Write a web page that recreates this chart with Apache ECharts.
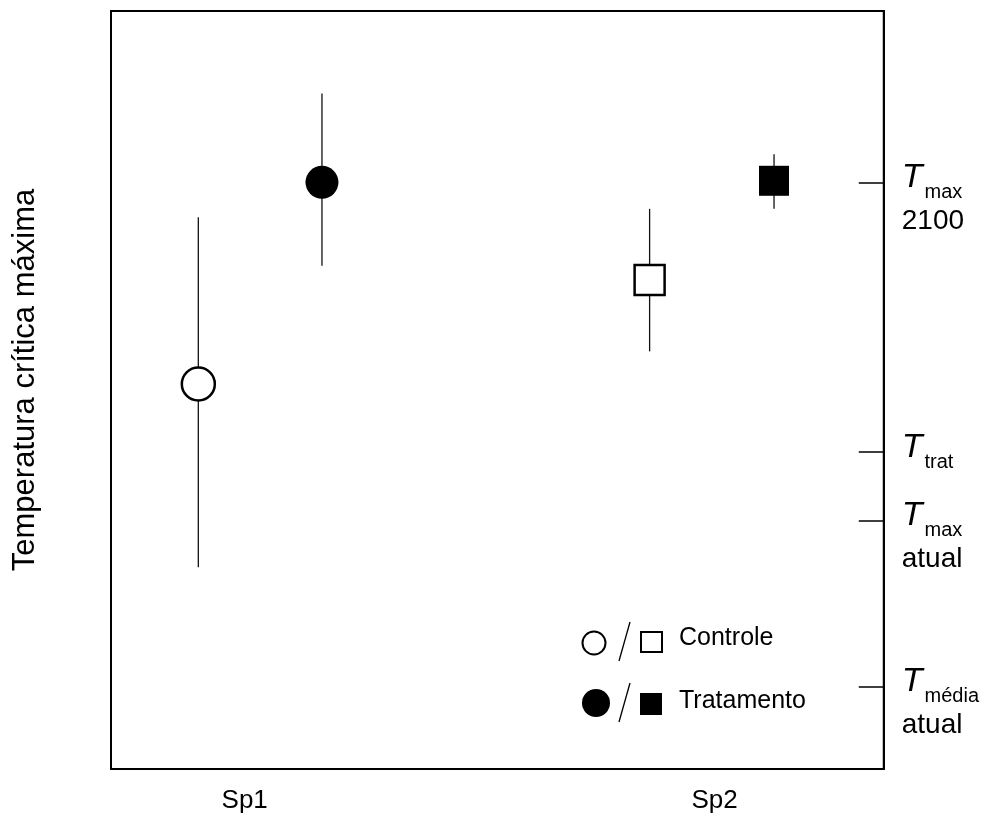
<!DOCTYPE html>
<html><head><meta charset="utf-8">
<script src="https://cdn.jsdelivr.net/npm/echarts@6/dist/echarts.min.js"></script>
<style>html,body{margin:0;padding:0;background:#fff}#c{width:982px;height:818px}</style>
</head><body><div id="c"></div>
<script>
// ---- data ----
const species = ['Sp1', 'Sp2'];
const speciesPos = [17.3, 78.1];
const groups = ['Controle', 'Tratamento'];
// points: Sp1 controle, Sp1 tratamento, Sp2 controle, Sp2 tratamento
const pointX = [11.3, 27.3, 69.7, 85.8];
const pointGroup = ['Controle', 'Tratamento', 'Controle', 'Tratamento'];
const pointShape = ['circle', 'circle', 'rect', 'rect'];
const meanVal = [50.8, 77.4, 64.5, 77.6];
const lowVal = [26.6, 66.4, 55.1, 73.9];
const highVal = [72.8, 89.1, 73.9, 81.1];
// reference temperatures (right axis)
const refValues = [77.4, 41.8, 32.8, 10.9];
const refSub = ['max', 'trat', 'max', 'média'];
const refLine2 = ['2100', '', 'atual', 'atual'];
const yTitle = 'Temperatura crítica máxima';

// ---- chart ----
const FONT = '"Liberation Sans", Arial, sans-serif';
const chart = echarts.init(document.getElementById('c'), null, {renderer: 'canvas'});

const errData = pointX.map((x, i) => [x, lowVal[i], highVal[i]]);
const ptData = pointX.map((x, i) => {
  const filled = pointGroup[i] === 'Tratamento';
  const circ = pointShape[i] === 'circle';
  return {
    value: [x, meanVal[i]],
    symbol: pointShape[i],
    symbolSize: circ ? 33 : 30,
    itemStyle: {
      color: filled ? '#000' : '#fff',
      borderColor: '#000',
      borderWidth: filled ? 0 : 2.5,
      opacity: 1
    }
  };
});

function nearestIdx(arr, v) {
  let b = 0;
  arr.forEach((a, i) => { if (Math.abs(a - v) < Math.abs(arr[b] - v)) b = i; });
  return b;
}

const option = {
  backgroundColor: '#fff',
  animation: false,
  grid: {left: 111, right: 98, top: 11, bottom: 49, show: true, borderColor: '#000', borderWidth: 2},
  xAxis: {
    type: 'value', min: 0, max: 100,
    splitLine: {show: false}, axisLine: {show: false}, axisTick: {show: false},
    axisLabel: {
      customValues: speciesPos,
      formatter: v => species[nearestIdx(speciesPos, v)],
      fontSize: 26, color: '#000', fontFamily: FONT, margin: 19
    }
  },
  yAxis: [
    {
      type: 'value', min: 0, max: 100, position: 'left',
      splitLine: {show: false}, axisLine: {show: false}, axisTick: {show: false}, axisLabel: {show: false},
      name: yTitle, nameLocation: 'middle', nameRotate: 90, nameGap: 70,
      nameTextStyle: {fontSize: 31, color: '#000', fontFamily: FONT, padding: [0, 0, 0, 20]}
    },
    {
      type: 'value', min: 0, max: 100, position: 'right',
      splitLine: {show: false},
      axisLine: {show: true, lineStyle: {color: '#000', width: 2}},
      axisTick: {show: true, inside: true, length: 25, customValues: refValues, lineStyle: {color: '#000', width: 1.5}},
      axisLabel: {
        customValues: refValues,
        margin: 18,
        align: 'left',
        fontFamily: FONT, color: '#000',
        formatter: v => {
          const i = nearestIdx(refValues, v);
          const first = '{t|T}{s|' + refSub[i] + '}';
          return refLine2[i] ? '{sp| }\n' + first + '\n{n|' + refLine2[i] + '}' : first;
        },
        rich: {
          sp: {fontSize: 28, lineHeight: 38, fontFamily: FONT},
          t: {fontSize: 34, fontStyle: 'italic', lineHeight: 40, fontFamily: FONT, color: '#000', verticalAlign: 'bottom', padding: [0, 0, 8, 0]},
          s: {fontSize: 20, lineHeight: 22, fontFamily: FONT, color: '#000', verticalAlign: 'bottom', padding: [0, 0, 0, 2]},
          n: {fontSize: 28, lineHeight: 38, fontFamily: FONT, color: '#000'}
        }
      }
    }
  ],
  series: [
    {
      type: 'custom', yAxisIndex: 1, z: 2,
      data: errData,
      encode: {x: 0, y: [1, 2]},
      renderItem: (params, api) => {
        const x = api.value(0);
        const p1 = api.coord([x, api.value(1)]);
        const p2 = api.coord([x, api.value(2)]);
        return {type: 'line', shape: {x1: p1[0], y1: p1[1], x2: p2[0], y2: p2[1]},
                style: {stroke: '#111', lineWidth: 1.3}};
      }
    },
    {
      type: 'scatter', yAxisIndex: 1, z: 5,
      data: ptData
    }
  ],
  graphic: [
    // legend: Controle
    {type: 'circle', shape: {cx: 594, cy: 643, r: 11.5}, style: {fill: '#fff', stroke: '#000', lineWidth: 2}, z: 10},
    {type: 'line', shape: {x1: 619, y1: 661, x2: 630, y2: 622}, style: {stroke: '#000', lineWidth: 1.3}, z: 10},
    {type: 'rect', shape: {x: 641, y: 632, width: 21, height: 20}, style: {fill: '#fff', stroke: '#000', lineWidth: 2}, z: 10},
    {type: 'text', left: 679, top: 626, style: {text: groups[0], font: '25px ' + FONT, fill: '#000'}, z: 10},
    // legend: Tratamento
    {type: 'circle', shape: {cx: 596, cy: 703, r: 14}, style: {fill: '#000'}, z: 10},
    {type: 'line', shape: {x1: 619, y1: 722, x2: 630, y2: 683}, style: {stroke: '#000', lineWidth: 1.3}, z: 10},
    {type: 'rect', shape: {x: 640, y: 693, width: 22, height: 22}, style: {fill: '#000'}, z: 10},
    {type: 'text', left: 679, top: 689, style: {text: groups[1], font: '25px ' + FONT, fill: '#000'}, z: 10}
  ]
};
chart.setOption(option);
</script>
</body></html>
